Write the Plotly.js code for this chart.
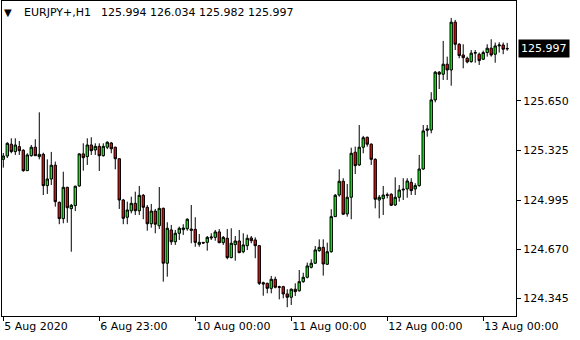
<!DOCTYPE html>
<html>
<head>
<meta charset="utf-8">
<script src="https://cdn.plot.ly/plotly-3.0.1.min.js"></script>
<style>html,body{margin:0;padding:0;background:#fff;}#chart{width:580px;height:340px;}</style>
</head>
<body>
<div id="chart"></div>
<script>
const symbol = "EURJPY+,H1";
const lastOHLC = "125.994 126.034 125.982 125.997";
const lastPrice = 125.997;

const opens = [
125.264,125.286,125.364,125.315,125.348,125.324,125.189,125.288,125.344,125.282,
125.297,125.090,125.134,125.225,124.980,124.872,125.079,124.938,124.958,125.088,
125.300,125.282,125.359,125.326,125.350,125.288,125.344,125.372,125.344,125.268,
124.995,124.881,124.924,124.973,124.924,125.026,124.947,124.838,124.922,124.825,
124.940,124.577,124.797,124.719,124.775,124.799,124.805,124.803,124.801,124.702,
124.715,124.715,124.744,124.748,124.784,124.713,124.742,124.614,124.700,124.724,
124.653,124.693,124.744,124.731,124.693,124.448,124.444,124.411,124.471,124.422,
124.422,124.374,124.352,124.405,124.395,124.455,124.484,124.550,124.577,124.660,
124.682,124.570,124.653,124.885,125.028,125.119,124.903,125.013,125.311,125.227,
125.344,125.410,125.364,125.264,124.995,125.004,125.030,125.033,124.962,125.013,
125.061,125.068,125.112,125.068,125.090,125.200,125.456,125.458,125.657,125.840,
125.827,125.893,125.855,126.171,126.025,125.954,125.932,125.910,125.966,125.959,
125.926,125.970,125.999,125.959,126.014,126.020,125.994];
const highs = [
125.306,125.377,125.403,125.403,125.385,125.331,125.304,125.359,125.397,125.575,
125.308,125.264,125.313,125.249,124.984,125.182,125.082,124.969,125.090,125.304,
125.370,125.403,125.410,125.370,125.370,125.370,125.383,125.379,125.348,125.271,
125.002,124.984,125.017,125.050,125.088,125.035,124.962,124.969,124.936,125.081,
124.945,124.848,124.830,124.797,124.819,124.835,124.874,124.962,124.881,124.770,
124.717,124.757,124.775,124.797,124.803,124.757,124.803,124.808,124.757,124.797,
124.775,124.766,124.757,124.748,124.698,124.455,124.448,124.493,124.488,124.428,
124.428,124.405,124.411,124.444,124.532,124.514,124.581,124.603,124.691,124.735,
124.735,124.713,124.934,125.035,125.198,125.139,125.101,125.341,125.348,125.491,
125.419,125.414,125.370,125.271,125.028,125.088,125.044,125.040,125.145,125.094,
125.139,125.139,125.139,125.106,125.293,125.491,125.491,125.708,125.848,125.848,
126.047,125.943,126.199,126.186,126.032,126.025,125.943,125.987,125.987,125.970,
125.983,126.025,126.058,126.036,126.038,126.036,126.034];
const lows = [
125.209,125.273,125.304,125.293,125.293,125.182,125.187,125.282,125.286,125.264,
125.028,125.035,125.094,124.951,124.835,124.841,124.845,124.653,124.922,125.083,
125.189,125.227,125.293,125.293,125.187,125.282,125.331,125.304,125.198,124.936,
124.835,124.835,124.907,124.896,124.896,124.868,124.792,124.812,124.775,124.803,
124.455,124.488,124.698,124.698,124.731,124.764,124.792,124.709,124.686,124.686,
124.704,124.660,124.731,124.726,124.709,124.698,124.603,124.610,124.594,124.643,
124.643,124.664,124.709,124.610,124.433,124.362,124.378,124.378,124.411,124.338,
124.345,124.286,124.301,124.360,124.389,124.448,124.477,124.543,124.572,124.653,
124.495,124.565,124.647,124.883,125.017,124.896,124.885,124.868,125.167,125.220,
125.304,125.348,125.227,124.940,124.874,124.896,125.006,124.956,124.956,124.984,
124.995,125.010,125.028,125.028,125.083,125.194,125.414,125.436,125.641,125.729,
125.789,125.789,125.751,125.987,125.932,125.866,125.899,125.903,125.903,125.888,
125.921,125.943,125.943,125.903,125.970,125.959,125.982];
const closes = [
125.286,125.370,125.315,125.359,125.321,125.189,125.293,125.344,125.288,125.297,
125.090,125.134,125.225,124.984,124.872,125.079,124.944,124.960,125.086,125.300,
125.275,125.359,125.321,125.350,125.288,125.350,125.377,125.334,125.268,124.995,
124.874,124.929,124.973,124.924,125.026,124.947,124.838,124.922,124.835,124.940,
124.577,124.808,124.719,124.775,124.808,124.810,124.868,124.795,124.715,124.715,
124.711,124.748,124.750,124.784,124.713,124.748,124.614,124.709,124.724,124.647,
124.698,124.742,124.726,124.693,124.444,124.440,124.411,124.471,124.418,124.418,
124.374,124.352,124.405,124.389,124.455,124.484,124.559,124.577,124.665,124.682,
124.572,124.653,124.885,125.026,125.119,124.901,125.013,125.304,125.222,125.344,
125.407,125.364,125.264,125.000,125.013,125.028,125.026,124.960,125.013,125.061,
125.066,125.121,125.057,125.090,125.200,125.452,125.465,125.657,125.840,125.827,
125.893,125.855,126.171,126.025,125.950,125.936,125.908,125.966,125.970,125.917,
125.970,125.999,125.954,126.014,126.020,125.992,125.997];

const xTickIdx = [0, 24, 48, 72, 96, 120];
const xTickLabels = ["5 Aug 2020", "6 Aug 23:00", "10 Aug 00:00", "11 Aug 00:00", "12 Aug 00:00", "13 Aug 00:00"];
const yTickVals = [125.650, 125.325, 124.995, 124.670, 124.345];
const yTickLabels = ["125.650", "125.325", "124.995", "124.670", "124.345"];

const xs = opens.map((_, i) => i);
const font = {family: "DejaVu Sans, Verdana, sans-serif", size: 11, color: "#000"};

const trace = {
  type: "candlestick",
  x: xs, open: opens, high: highs, low: lows, close: closes,
  increasing: {line: {color: "#000", width: 1}, fillcolor: "#00FF00"},
  decreasing: {line: {color: "#000", width: 1}, fillcolor: "#FF0000"},
  whiskerwidth: 0,
  hoverinfo: "skip",
  showlegend: false
};

const layout = {
  width: 580, height: 340,
  margin: {l: 2, r: 64, t: 1, b: 24},
  paper_bgcolor: "#fff", plot_bgcolor: "#fff",
  font: font,
  boxgap: 0.15,
  showlegend: false,
  xaxis: {
    type: "linear",
    range: [-0.325, 128.2],
    showgrid: false, zeroline: false,
    showline: true, mirror: true, linecolor: "#000", linewidth: 1,
    ticks: "outside", ticklen: 4, tickcolor: "#000",
    tickvals: xTickIdx, ticktext: xTickLabels,
    ticklabelposition: "outside right",
    tickfont: font,
    rangeslider: {visible: false},
    fixedrange: true
  },
  yaxis: {
    side: "right",
    range: [124.228, 126.311],
    showgrid: false, zeroline: false,
    showline: true, mirror: true, linecolor: "#000", linewidth: 1,
    ticks: "outside", ticklen: 4, tickcolor: "#000",
    tickvals: yTickVals, ticktext: yTickLabels,
    tickfont: font,
    fixedrange: true
  },
  annotations: [
    {xref: "paper", yref: "paper", x: 0.0126, y: 0.963, xanchor: "center", yanchor: "middle",
     text: "▼", showarrow: false, font: {family: font.family, size: 10, color: "#000"}},
    {xref: "paper", yref: "paper", x: 0.0385, y: 0.962, xanchor: "left", yanchor: "middle",
     text: symbol, showarrow: false, font: font},
    {xref: "paper", yref: "paper", x: 0.1885, y: 0.962, xanchor: "left", yanchor: "middle",
     text: lastOHLC, showarrow: false, font: font},
    {xref: "paper", yref: "y", x: 1.004, y: lastPrice, xanchor: "left", yanchor: "middle",
     text: String(lastPrice.toFixed(3)), showarrow: false, bgcolor: "#000", borderpad: 2,
     font: {family: font.family, size: 11, color: "#fff"}}
  ]
};

Plotly.newPlot("chart", [trace], layout, {displayModeBar: false, staticPlot: true});
</script>
</body>
</html>
